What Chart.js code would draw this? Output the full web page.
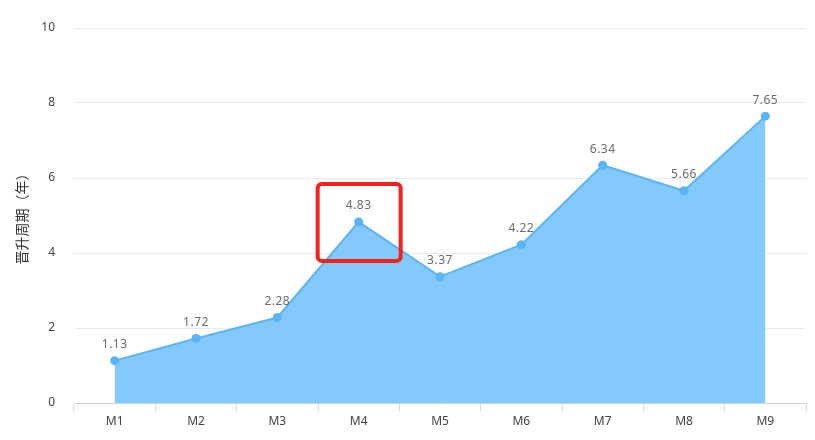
<!DOCTYPE html>
<html><head><meta charset="utf-8">
<script src="https://cdn.jsdelivr.net/npm/chart.js@4/dist/chart.umd.min.js"></script>
<style>html,body{margin:0;padding:0;background:#fff}#wrap{width:815px;height:440px}</style>
</head><body><div id="wrap"><canvas id="c" width="815" height="440"></canvas></div>
<script>
const categories = ['M1','M2','M3','M4','M5','M6','M7','M8','M9'];
const values = [1.13, 1.72, 2.28, 4.83, 3.37, 4.22, 6.34, 5.66, 7.65];
const yTicks = [0, 2, 4, 6, 8, 10];
const axisTitle = '晋升周期（年）';
const highlightIndex = 3;
const FONT = "'Noto Sans', 'Noto Sans CJK SC', sans-serif";
const CJK = "'Noto Sans CJK SC', sans-serif";

const labelPlugin = {
  id: 'pointLabels',
  afterDatasetsDraw(chart) {
    const ctx = chart.ctx;
    const meta = chart.getDatasetMeta(0);
    ctx.save();
    ctx.font = '12px ' + FONT;
    ctx.fillStyle = '#6b6b6b';
    ctx.textAlign = 'center';
    ctx.textBaseline = 'bottom';
    if ('letterSpacing' in ctx) ctx.letterSpacing = '0.5px';
    meta.data.forEach((pt, i) => {
      ctx.fillText(values[i].toFixed(2), pt.x, pt.y - 10);
    });
    if ('letterSpacing' in ctx) ctx.letterSpacing = '0px';
    // highlight box
    const x = chart.scales.x.getPixelForValue(highlightIndex);
    const y = chart.scales.y.getPixelForValue(values[highlightIndex]);
    ctx.strokeStyle = '#f5221b';
    ctx.lineWidth = 4;
    ctx.beginPath();
    ctx.roundRect(x - 41, y - 38, 83, 77, 4);
    ctx.stroke();
    ctx.restore();
  }
};

new Chart(document.getElementById('c'), {
  type: 'line',
  data: {
    labels: categories,
    datasets: [{
      data: values,
      borderColor: '#5cb5f5',
      backgroundColor: '#84c9fb',
      borderWidth: 2,
      fill: 'origin',
      tension: 0,
      pointRadius: 4.5,
      pointBackgroundColor: '#5ab4f5',
      pointBorderColor: '#5ab4f5',
      pointBorderWidth: 0
    }]
  },
  options: {
    responsive: false,
    animation: false,
    devicePixelRatio: 1,
    layout: { padding: { top: 28, right: 9, left: 0, bottom: 0 } },
    plugins: { legend: { display: false }, tooltip: { enabled: false } },
    scales: {
      x: {
        offset: true,
        afterFit: s => { s.height = 37; },
        grid: { offset: true, drawOnChartArea: false, drawTicks: true, tickLength: 8, color: '#d3dbe5', lineWidth: 1 },
        border: { display: true, color: '#ccd6e0', width: 1 },
        ticks: { color: '#444', font: { family: FONT, size: 12 }, padding: 3 }
      },
      y: {
        min: 0, max: 10,
        afterFit: s => { s.width = 74; },
        afterBuildTicks: s => { s.ticks = yTicks.map(v => ({ value: v })); },
        grid: { drawTicks: false, color: '#e6ebf1', lineWidth: 1 },
        border: { display: false },
        ticks: { color: '#444', font: { family: FONT, size: 12 }, padding: 19 },
        title: { display: true, text: axisTitle, color: '#333', font: { family: CJK, size: 14 }, padding: { top: 13, bottom: 0 } }
      }
    }
  },
  plugins: [labelPlugin]
});
</script></body></html>
